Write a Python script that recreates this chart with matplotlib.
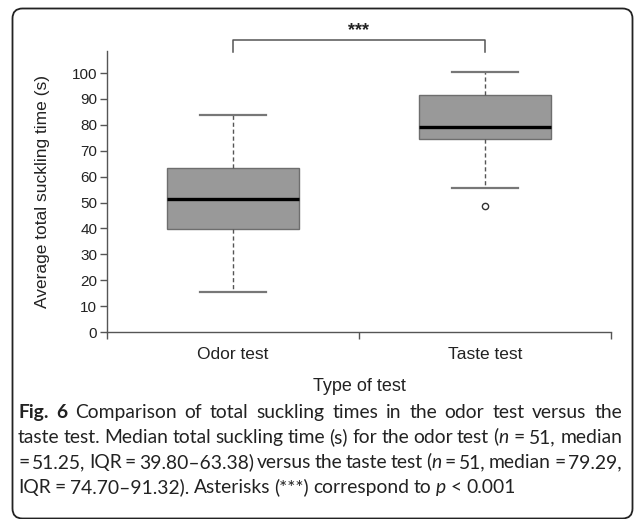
import matplotlib
matplotlib.use("Agg")
import matplotlib.pyplot as plt
from matplotlib.patches import FancyBboxPatch
from matplotlib.transforms import IdentityTransform

plt.rcParams['font.family'] = ['Liberation Sans', 'DejaVu Sans']
plt.rcParams['mathtext.fontset'] = 'custom'
plt.rcParams['mathtext.rm'] = 'Lato'
plt.rcParams['mathtext.it'] = 'Lato:italic'
plt.rcParams['mathtext.bf'] = 'Lato:bold'

# data
groups = ["Odor test", "Taste test"]
medians = [51.25, 79.29]
q1 = [39.80, 74.70]
q3 = [63.38, 91.32]
whisk_low = [15.5, 55.5]
whisk_high = [83.8, 100.4]
outliers = [[], [48.7]]
yticks = [0, 10, 20, 30, 40, 50, 60, 70, 80, 90, 100]

caption_lines = [
    ["Fig.", "6", "Comparison", "of", "total", "suckling", "times", "in", "the", "odor",
     "test", "versus", "the"],
    ["taste", "test.", "Median", "total", "suckling", "time", "(s)", "for", "the", "odor",
     "test", r"($\mathit{n}$", "=", "51,", "median"],
    ["=", "51.25,", "IQR", "=", "39.80–63.38)", "versus", "the", "taste", "test",
     r"($\mathit{n}$", "=", "51,", "median", "=", "79.29,"],
    ["IQR", "=", "74.70–91.32).", "Asterisks", "(***)", "correspond", "to",
     r"$\mathit{p}$", "<", "0.001"],
]

W, H = 634, 519
fig = plt.figure(figsize=(W / 100, H / 100), dpi=100)

# rounded frame around the whole figure
frame = FancyBboxPatch((12.5, 0.5), 620, 510, boxstyle="round,pad=0,rounding_size=10",
                       transform=IdentityTransform(), fill=False, edgecolor="#222222",
                       linewidth=1.3)
fig.add_artist(frame)

ax = fig.add_axes([107 / W, (H - 332) / H, (611 - 107) / W, (332 - 51) / H])

stats = []
for i in range(len(groups)):
    stats.append({"med": medians[i], "q1": q1[i], "q3": q3[i],
                  "whislo": whisk_low[i], "whishi": whisk_high[i],
                  "fliers": outliers[i], "label": groups[i]})

ax.bxp(stats, positions=[1, 2], widths=0.524, capwidths=0.262, patch_artist=True,
       boxprops=dict(facecolor="#999999", edgecolor="#6e6e6e", linewidth=1.0),
       medianprops=dict(color="black", linewidth=2.4),
       whiskerprops=dict(color="#555555", linewidth=1.0, linestyle=(0, (3, 2))),
       capprops=dict(color="#777777", linewidth=1.6),
       flierprops=dict(marker="o", markersize=4.5, markerfacecolor="white",
                       markeredgecolor="#333333", markeredgewidth=1.0))

ax.set_xlim(0.5, 2.5)
ax.set_ylim(0, 108.5)
ax.set_yticks(yticks)
ax.set_xticks([1, 2])
ax.set_xticklabels(groups, fontsize=12.5, color="#222222")
ax.set_xticks([0.5, 1.5, 2.5], minor=True)
ax.tick_params(axis="x", which="major", length=0, pad=11)
ax.tick_params(axis="x", which="minor", length=5, width=1, color="#555555")
ax.tick_params(axis="y", length=5, width=1, color="#555555", pad=2,
               labelsize=11, labelcolor="#222222")

for s in ["top", "right"]:
    ax.spines[s].set_visible(False)
for s in ["left", "bottom"]:
    ax.spines[s].set_color("#555555")
    ax.spines[s].set_linewidth(1.0)

ax.set_ylabel("Average total suckling time (s)", fontsize=12.5, color="#222222", labelpad=16)
ax.set_xlabel("Type of test", fontsize=13, color="#222222", labelpad=11)

# significance bracket
ax.plot([1, 1, 2, 2], [108, 112.7, 112.7, 108], color="#555555", linewidth=1.1,
        clip_on=False)
ax.text(1.5, 116.5, "***", ha="center", va="center", fontsize=13, fontweight="bold",
        color="#222222", clip_on=False)

# justified caption, word by word
renderer = fig.canvas.get_renderer()
x_left, x_right = 18, 622
line_y = [418, 443, 468, 493]   # baselines, px from top
cap_size = 13.9
for li, words in enumerate(caption_lines):
    texts = []
    for wi, word in enumerate(words):
        bold = li == 0 and wi < 2
        t = fig.text(0, 0, word, fontsize=cap_size, family="Lato", color="#222222",
                     fontweight="bold" if bold else "normal", va="baseline", ha="left",
                     transform=IdentityTransform())
        texts.append(t)
    widths = [t.get_window_extent(renderer).width for t in texts]
    if li < len(caption_lines) - 1:
        gap = (x_right - x_left - sum(widths)) / (len(words) - 1)
    else:
        gap = cap_size * 0.3
    x = x_left
    for t, w in zip(texts, widths):
        t.set_position((x, H - line_y[li]))
        x += w + gap

fig.savefig("out.png", dpi=100)
